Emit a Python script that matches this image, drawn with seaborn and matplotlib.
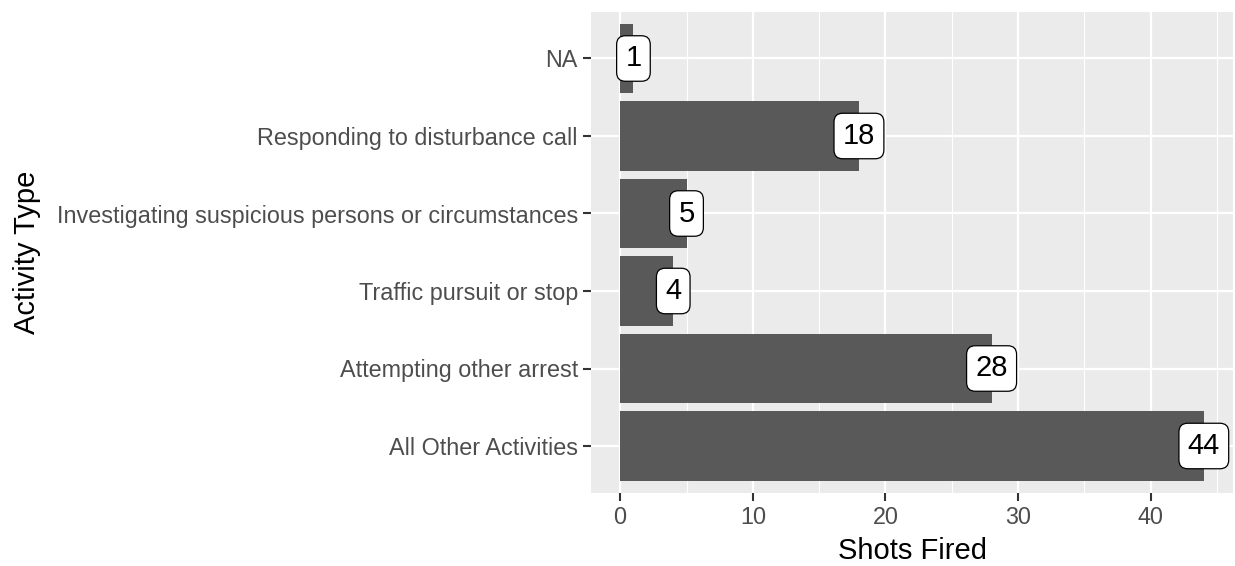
import matplotlib
matplotlib.use("Agg")
import matplotlib.pyplot as plt
import seaborn as sns
import pandas as pd

activities = ["NA", "Responding to disturbance call",
              "Investigating suspicious persons or circumstances",
              "Traffic pursuit or stop", "Attempting other arrest",
              "All Other Activities"]
shots = [1, 18, 5, 4, 28, 44]

df = pd.DataFrame({"activity": activities, "shots": shots})

sns.set_theme(style="darkgrid", rc={"axes.facecolor": "#EBEBEB",
                                    "grid.color": "white"})
plt.rcParams["font.family"] = ["Liberation Sans", "DejaVu Sans"]

fig = plt.figure(figsize=(12.35, 5.66), dpi=100)
ax = fig.add_axes([591 / 1235, 73.5 / 566, 642 / 1235, 480.5 / 566])

sns.barplot(data=df, x="shots", y="activity", order=activities, orient="h",
            color="#595959", saturation=1, width=0.9, linewidth=0, ax=ax)

for i, v in enumerate(shots):
    ax.text(v, i, str(v), ha="center", va="center", fontsize=21, color="black",
            bbox=dict(boxstyle="round,pad=0.3,rounding_size=0.3",
                      facecolor="white", edgecolor="black", linewidth=0.9),
            zorder=5)

ax.set_xlim(-2.2, 46.2)
ax.set_ylim(5.6, -0.6)
ax.set_xticks([0, 10, 20, 30, 40])
ax.set_xticks([5, 15, 25, 35, 45], minor=True)
ax.grid(True, which="major", color="white", linewidth=1.6)
ax.grid(True, which="minor", color="white", linewidth=0.8)
ax.set_axisbelow(True)
for s in ax.spines.values():
    s.set_visible(False)

ax.tick_params(axis="both", which="major", length=6, width=1.5,
               color="#333333", labelcolor="#4D4D4D", labelsize=16.8, pad=3.5,
               bottom=True, left=True)
ax.tick_params(axis="x", which="minor", length=0)
ax.set_xlabel("Shots Fired", fontsize=21, color="black", labelpad=6)
ax.set_ylabel("Activity Type", fontsize=21, color="black", labelpad=11)

fig.savefig("out.png", dpi=100)
